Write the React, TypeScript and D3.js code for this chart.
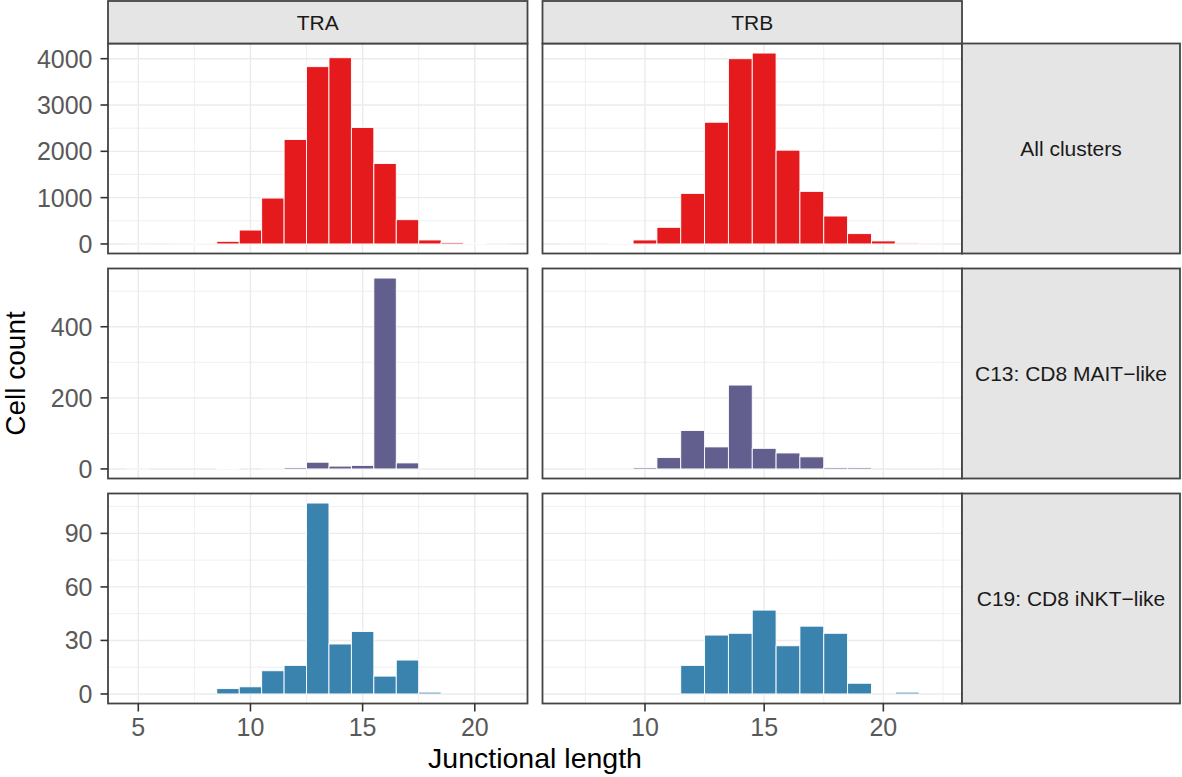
import React from "react";
import * as d3 from "d3";

// junctional lengths shown in each column
const chains = ["TRA", "TRB"];
const traLengths = [5, 6, 7, 8, 9, 10, 11, 12, 13, 14, 15, 16, 17, 18, 19, 20, 21];
const trbLengths = [7, 8, 9, 10, 11, 12, 13, 14, 15, 16, 17, 18, 19, 20, 21, 22];

const clusters = ["All clusters", "C13: CD8 MAIT\u2212like", "C19: CD8 iNKT\u2212like"];
const clusterColors = ["#E41A1C", "#625F8E", "#3A83AE"];

// cell counts per length (same order as the length arrays)
const allTRA = [5, 5, 8, 20, 57, 300, 991, 2255, 3828, 4021, 2513, 1738, 524, 86, 29, 14, 7];
const allTRB = [3, 8, 15, 86, 359, 1092, 2628, 4000, 4122, 2025, 1135, 603, 223, 65, 22, 7];
const c13TRA = [1, 0, 0, 0, 2, 0, 1, 4, 19, 8, 10, 537, 17, 0, 0, 0, 0];
const c13TRB = [0, 1, 1, 4, 32, 108, 62, 236, 58, 45, 34, 4, 4, 0, 0, 0];
const c19TRA = [0, 0, 0, 0, 3, 4, 13, 16, 107, 28, 35, 10, 19, 1, 0, 0, 0];
const c19TRB = [0, 0, 0, 0, 0, 16, 33, 34, 47, 27, 38, 34, 6, 0, 1, 0];

const xTicksTRA = [5, 10, 15, 20];
const xTicksTRB = [10, 15, 20];
const yTicksAll = [0, 1000, 2000, 3000, 4000];
const yTicksC13 = [0, 200, 400];
const yTicksC19 = [0, 30, 60, 90];

const lengthsByCol = [traLengths, trbLengths];
const xTicksByCol = [xTicksTRA, xTicksTRB];
const countsGrid = [
  [allTRA, allTRB],
  [c13TRA, c13TRB],
  [c19TRA, c19TRB],
];
const yTicksByRow = [yTicksAll, yTicksC13, yTicksC19];

// layout
const W = 1182;
const H = 777;
const colX: [number, number][] = [[108, 527.5], [542.5, 962]];
const rowY: [number, number][] = [[43.5, 253.5], [268.5, 478.5], [493.5, 703.5]];
const stripTop = 1;
const stripRight = 1180;
const font = "'Liberation Sans', Arial, Helvetica, sans-serif";
const border = "#444";

function minorBreaks(major: number[], domain: number[]) {
  const step = major[1] - major[0];
  const out = new Set<number>();
  major.forEach(b => {
    out.add(b - step / 2);
    out.add(b + step / 2);
  });
  return Array.from(out).filter(v => v > domain[0] && v < domain[1] && !major.includes(v));
}

export default function App() {
  const xScales = lengthsByCol.map((lens, c) => {
    const lo = d3.min(lens)! - 0.5;
    const hi = d3.max(lens)! + 0.5;
    const pad = (hi - lo) * 0.05;
    return d3.scaleLinear().domain([lo - pad, hi + pad]).range(colX[c]);
  });
  const yScales = countsGrid.map((row, r) => {
    const mx = d3.max(row.flat())!;
    return d3.scaleLinear().domain([-0.05 * mx, 1.05 * mx]).range([rowY[r][1], rowY[r][0]]);
  });

  return (
    <svg width={W} height={H} style={{ position: "absolute", left: 0, top: 0, background: "#fff" }} fontFamily={font}>
      {countsGrid.map((row, r) =>
        row.map((counts, c) => {
          const x = xScales[c];
          const y = yScales[r];
          const [x0, x1] = colX[c];
          const [y0, y1] = rowY[r];
          const xMinor = minorBreaks(xTicksByCol[c], x.domain());
          const yMinor = minorBreaks(yTicksByRow[r], y.domain());
          return (
            <g key={`p${r}${c}`}>
              <rect x={x0} y={y0} width={x1 - x0} height={y1 - y0} fill="#fff" />
              {xMinor.map(v => (
                <line key={`xm${v}`} x1={x(v)} x2={x(v)} y1={y0} y2={y1} stroke="#EBEBEB" strokeWidth={0.8} />
              ))}
              {yMinor.map(v => (
                <line key={`ym${v}`} x1={x0} x2={x1} y1={y(v)} y2={y(v)} stroke="#EBEBEB" strokeWidth={0.8} />
              ))}
              {xTicksByCol[c].map(v => (
                <line key={`xM${v}`} x1={x(v)} x2={x(v)} y1={y0} y2={y1} stroke="#EBEBEB" strokeWidth={1.4} />
              ))}
              {yTicksByRow[r].map(v => (
                <line key={`yM${v}`} x1={x0} x2={x1} y1={y(v)} y2={y(v)} stroke="#EBEBEB" strokeWidth={1.4} />
              ))}
              {counts.map((n, i) => {
                if (n <= 0) return null;
                const len = lengthsByCol[c][i];
                return (
                  <rect
                    key={`b${len}`}
                    x={x(len - 0.5)}
                    width={x(len + 0.5) - x(len - 0.5)}
                    y={y(n)}
                    height={y(0) - y(n)}
                    fill={clusterColors[r]}
                    stroke="#fff"
                    strokeWidth={0.9}
                  />
                );
              })}
              <rect x={x0} y={y0} width={x1 - x0} height={y1 - y0} fill="none" stroke={border} strokeWidth={1.8} />
            </g>
          );
        })
      )}

      {/* column strips */}
      {chains.map((ch, c) => (
        <g key={ch}>
          <rect x={colX[c][0]} y={stripTop} width={colX[c][1] - colX[c][0]} height={rowY[0][0] - stripTop}
            fill="#E5E5E5" stroke={border} strokeWidth={1.8} />
          <text x={(colX[c][0] + colX[c][1]) / 2} y={(stripTop + rowY[0][0]) / 2} dy="0.36em"
            textAnchor="middle" fontSize={21} fill="#1A1A1A">{ch}</text>
        </g>
      ))}

      {/* row strips */}
      {clusters.map((cl, r) => (
        <g key={cl}>
          <rect x={colX[1][1]} y={rowY[r][0]} width={stripRight - colX[1][1]} height={rowY[r][1] - rowY[r][0]}
            fill="#E5E5E5" stroke={border} strokeWidth={1.8} />
          <text x={(colX[1][1] + stripRight) / 2} y={(rowY[r][0] + rowY[r][1]) / 2} dy="0.36em"
            textAnchor="middle" fontSize={21} fill="#1A1A1A">{cl}</text>
        </g>
      ))}

      {/* y axes */}
      {yTicksByRow.map((ticks, r) => (
        <g key={`ya${r}`}>
          {ticks.map(v => (
            <g key={v}>
              <line x1={colX[0][0] - 7.5} x2={colX[0][0]} y1={yScales[r](v)} y2={yScales[r](v)} stroke="#333" strokeWidth={1.6} />
              <text x={colX[0][0] - 15.5} y={yScales[r](v)} dy="0.36em" textAnchor="end" fontSize={25} fill="#595959">{v}</text>
            </g>
          ))}
        </g>
      ))}

      {/* x axes */}
      {xTicksByCol.map((ticks, c) => (
        <g key={`xa${c}`}>
          {ticks.map(v => (
            <g key={v}>
              <line x1={xScales[c](v)} x2={xScales[c](v)} y1={rowY[2][1]} y2={rowY[2][1] + 8} stroke="#333" strokeWidth={1.6} />
              <text x={xScales[c](v)} y={736} textAnchor="middle" fontSize={25} fill="#595959">{v}</text>
            </g>
          ))}
        </g>
      ))}

      <text x={(colX[0][0] + colX[1][1]) / 2} y={768} textAnchor="middle" fontSize={28.5} fill="#000">Junctional length</text>
      <text transform={`translate(25,${(rowY[0][0] + rowY[2][1]) / 2}) rotate(-90)`} textAnchor="middle" fontSize={28} fill="#000">Cell count</text>
    </svg>
  );
}
